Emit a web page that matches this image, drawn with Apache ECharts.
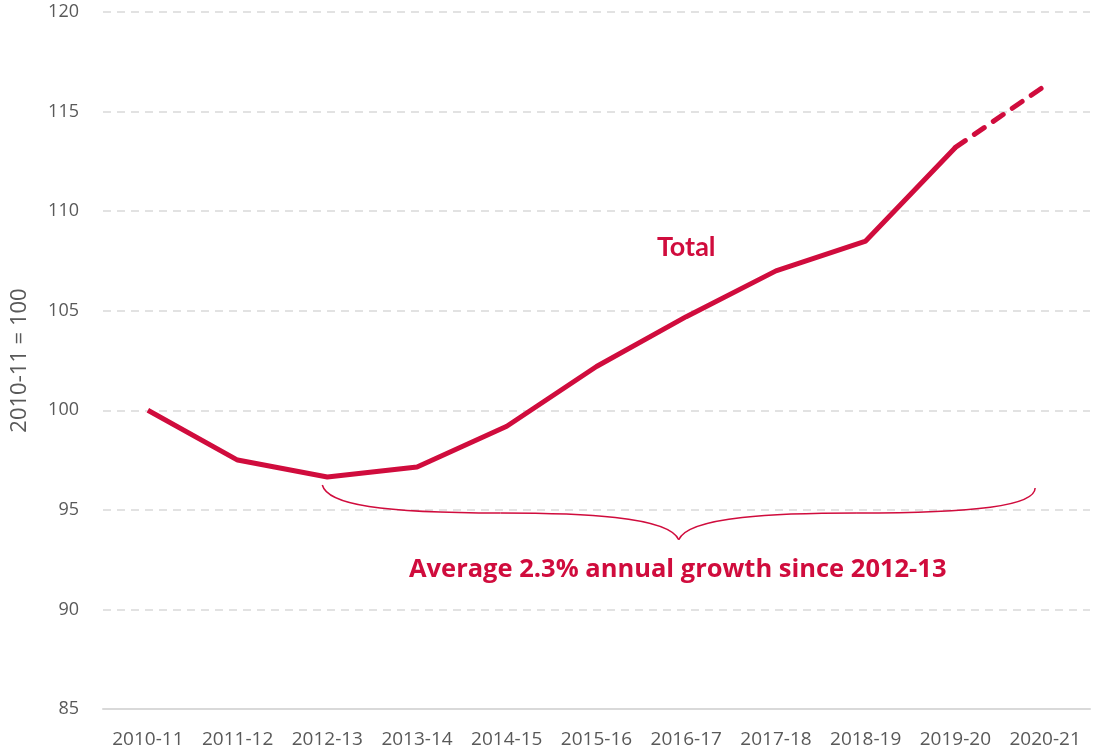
<!DOCTYPE html>
<html>
<head>
<meta charset="utf-8">
<script src="https://cdn.jsdelivr.net/npm/echarts@6/dist/echarts.min.js"></script>
<style>html,body{margin:0;padding:0;background:#fff}#c{width:1094px;height:751px}</style>
</head>
<body>
<div id="c"></div>
<script>
const categories = ['2010-11','2011-12','2012-13','2013-14','2014-15','2015-16','2016-17','2017-18','2018-19','2019-20','2020-21'];
const actualValues = [100, 97.5, 96.65, 97.15, 99.2, 102.2, 104.7, 107.0, 108.5, 113.2, null];
const forecastValues = [null, null, null, null, null, null, null, null, null, 113.2, 116.3];
const yTicks = {min: 85, max: 120, interval: 5};
const seriesLabel = 'Total';
const braceText = 'Average 2.3% annual growth since 2012-13';
const braceFrom = {cat: '2012-13', value: 96.25};
const braceTo = {cat: '2020-21', value: 96.1};
const braceTipValue = 93.5;
const labelPos = {cat: '2016-17', value: 108.2};

const RED = '#d00c3d';
const chart = echarts.init(document.getElementById('c'));
chart.setOption({
  animation: false,
  grid: {left: 103, right: 4, top: 12, bottom: 42},
  xAxis: {
    type: 'category', data: categories, boundaryGap: true,
    axisLine: {show: true, lineStyle: {color: '#d9d9d9', width: 2}},
    axisTick: {show: false},
    axisLabel: {color: '#595959', fontSize: 19, fontFamily: 'Open Sans', margin: 21, interval: 0}
  },
  yAxis: {
    type: 'value', min: yTicks.min, max: yTicks.max, interval: yTicks.interval,
    name: '2010-11 = 100', nameLocation: 'middle', nameGap: 72, nameRotate: 90,
    nameTextStyle: {color: '#595959', fontSize: 22, fontFamily: 'Open Sans'},
    axisLine: {show: false}, axisTick: {show: false},
    axisLabel: {color: '#595959', fontSize: 18, fontFamily: 'Open Sans', margin: 24},
    splitLine: {show: true, lineStyle: {color: '#d9d9d9', type: [8, 6], width: 1.5}}
  },
  series: [
    {type: 'line', data: actualValues, symbol: 'none', lineStyle: {color: RED, width: 5}, z: 3},
    {type: 'line', data: forecastValues, symbol: 'none', lineStyle: {color: RED, width: 5, type: [12, 11], cap: 'round'}, z: 3}
  ]
});

function px(cat, val) { return chart.convertToPixel({xAxisIndex: 0, yAxisIndex: 0}, [cat, val]); }
const a = px(braceFrom.cat, braceFrom.value);
const b = px(braceTo.cat, braceTo.value);
const tip = px('2016-17', braceTipValue);
const ax = a[0] - 5, ay = a[1];
const bx = b[0] - 10, by = b[1];
const tipX = (ax + bx) / 2, tipY = tip[1];
const flatL = ay + 28, flatR = by + 25;
const mL = (ax + tipX) / 2, mR = (tipX + bx) / 2;
function bez(x1, y1, c1x, c1y, c2x, c2y, x2, y2) {
  return {type: 'bezierCurve', shape: {x1: x1, y1: y1, cpx1: c1x, cpy1: c1y, cpx2: c2x, cpy2: c2y, x2: x2, y2: y2},
    style: {fill: null, stroke: RED, lineWidth: 1.5}};
}
const lp = px(labelPos.cat, labelPos.value);
chart.setOption({
  graphic: [
    bez(ax, ay, ax + 5, ay + 20, ax + 60, flatL, mL, flatL),
    bez(mL, flatL, tipX - 100, flatL, tipX - 10, flatL + 3, tipX, tipY),
    bez(tipX, tipY, tipX + 10, flatR + 3, tipX + 100, flatR, mR, flatR),
    bez(mR, flatR, bx - 60, flatR, bx, by + 18, bx, by),
    {type: 'text', x: tipX - 1, y: tipY + 30, style: {text: braceText, fill: RED, font: 'bold 25.5px "Open Sans"', textAlign: 'center', textVerticalAlign: 'middle'}},
    {type: 'text', x: lp[0], y: lp[1], style: {text: seriesLabel, fill: RED, font: 'bold 27px "Lato"', textAlign: 'center', textVerticalAlign: 'middle'}}
  ]
});
</script>
</body>
</html>
